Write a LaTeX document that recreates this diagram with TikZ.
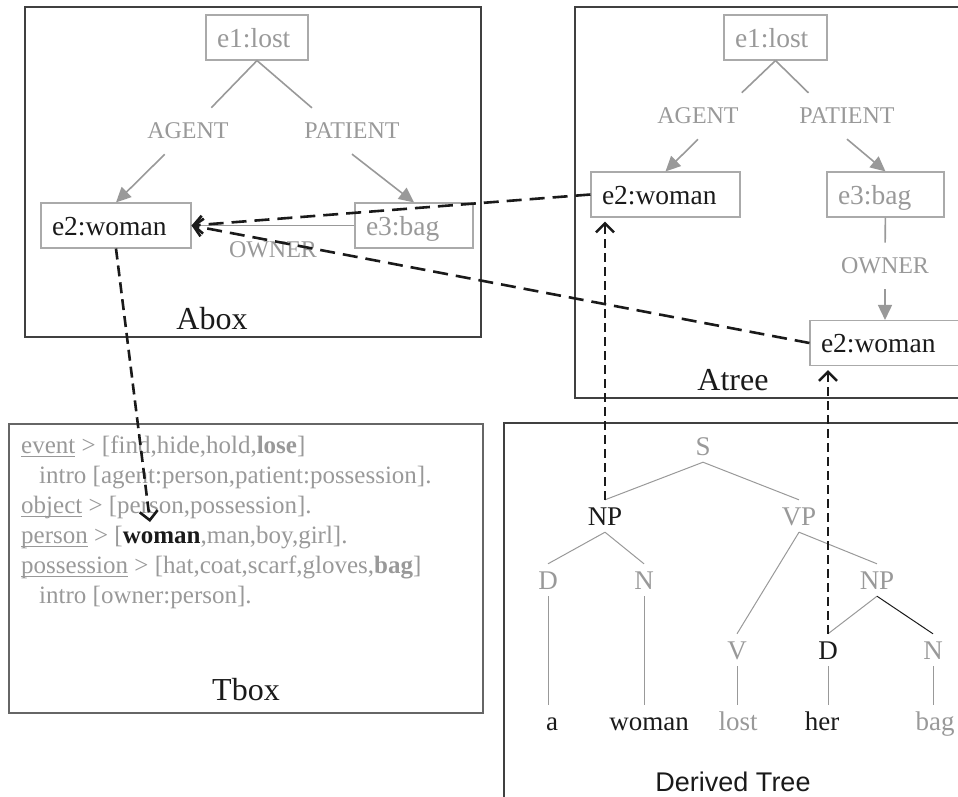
\documentclass[tikz,border=0pt]{standalone}
\usepackage{fontspec}
\setmainfont{Liberation Serif}
\setsansfont{Liberation Sans}
\usepackage{xcolor}
\usetikzlibrary{arrows.meta,calc}
\definecolor{relgray}{HTML}{999999}
\definecolor{boxgray}{HTML}{AAAAAA}
\definecolor{framegray}{HTML}{404040}
\definecolor{inkblack}{HTML}{1A1A1A}
\newcommand{\tbul}[1]{\setbox0=\hbox{#1}\rlap{\rule[-4pt]{\wd0}{1pt}}\box0\relax}

\begin{document}
\begin{tikzpicture}[x=1pt, y=-1pt,
    panel/.style={draw=framegray, line width=1.4pt},
    ent/.style={draw=boxgray, line width=1.1pt, minimum height=45pt, text height=19pt, text depth=0pt, inner xsep=11pt, align=left, font=\fontsize{27.5}{33}\selectfont},
    rel/.style={text=relgray, inner sep=15pt, font=\fontsize{24}{29}\selectfont},
    boxtitle/.style={text=inkblack, font=\fontsize{32}{38}\selectfont},
    relline/.style={draw=relgray, line width=1.6pt},
    relarrow/.style={relline, -{Triangle[length=15pt,width=14pt]}},
    link/.style={draw=inkblack, line width=2.6pt, dash pattern=on 15pt off 8pt, -{Straight Barb[length=9pt,width=18pt]}},
    vlink/.style={link, dash pattern=on 9pt off 5pt, shorten >=4pt},
    cat/.style={text=relgray, font=\fontsize{27}{32}\selectfont, text height=18pt, text depth=0pt, inner sep=7pt},
    branch/.style={draw=relgray, line width=1pt},
    tbrow/.style={anchor=base west, inner sep=0pt, text=relgray, font=\fontsize{25}{30}\selectfont}]
    \useasboundingbox (0,0) rectangle (958,796);
    \clip (0,0) rectangle (958,796);

    % Abox
    \draw[panel] (25,7) rectangle (481,337);
    \node[ent, text width=80pt, text=relgray] (abevt) at (257,37.5) {e1:lost};
    \node[rel] (abagent) at (188,131) {AGENT};
    \node[rel] (abpatient) at (352,131) {PATIENT};
    \node[ent, text width=128pt, text=inkblack] (abwoman) at (116,225.5) {e2:woman};
    \node[ent, text width=96pt, text=relgray] (abbag) at (414,225.5) {e3:bag};
    \node[boxtitle] (abtitle) at (212,319) {Abox};
    \draw[relline] (abevt.south) -- (abagent.45);
    \draw[relline] (abevt.south) -- (abpatient.150);
    \draw[relarrow] (abagent.225) -- (abwoman.north);
    \draw[relarrow] (abpatient.south) -- (abbag.north);
    \draw[relline] (abbag) -- node[rel, below] {OWNER} (abwoman);

    % Atree
    \draw[panel] (575,7) rectangle (990,398);
    \node[ent, text width=81pt, text=relgray] (atevt) at (775.5,37.5) {e1:lost};
    \node[rel] (atagent) at (698,116) {AGENT};
    \node[rel] (atpatient) at (847,116) {PATIENT};
    \node[ent, text width=127pt, text=inkblack] (atwoman) at (665.5,194.5) {e2:woman};
    \node[ent, text width=95pt, text=relgray] (atbag) at (885.5,194.5) {e3:bag};
    \node[rel] (atowner) at (885,266) {OWNER};
    \node[ent, text width=128pt, text=inkblack] (atposs) at (885,343) {e2:woman};
    \node[boxtitle] (attitle) at (733,380) {Atree};
    \draw[relline] (atevt.south) -- (atagent.28);
    \draw[relline] (atevt.south) -- (atpatient.149);
    \draw[relarrow] (atagent.south) -- (atwoman.north);
    \draw[relarrow] (atpatient.south) -- (atbag.north);
    \draw[relline] (atbag) -- (atowner);
    \draw[relarrow] (atowner) -- (atposs);

    % Tbox
    \draw[panel, draw=framegray!80] (9,424) rectangle (483,713);
    \node[tbrow] (tb1) at (21,453) {\tbul{event} > [find,hide,hold,\textbf{lose}]};
    \node[tbrow] (tb2) at (39,483) {intro [agent:person,patient:possession].};
    \node[tbrow] (tb3) at (21,513) {\tbul{object} > [person,possession].};
    \node[tbrow] (tb4) at (21,543) {\tbul{person} > [{\color{inkblack}\textbf{woman}},man,boy,girl].};
    \node[tbrow] (tb5) at (21,573) {\tbul{possession} > [hat,coat,scarf,gloves,\textbf{bag}]};
    \node[tbrow] (tb6) at (39,603) {intro [owner:person].};
    \coordinate (tbwoman) at (150,522);
    \node[boxtitle] (tbtitle) at (246,690) {Tbox};

    % Derived tree
    \draw[panel] (504,423) rectangle (990,830);
    \node[cat] (dts) at (703,446) {S};
    \node[cat, text=inkblack] (dtnp) at (605,516) {NP};
    \node[cat] (dtvp) at (799,516) {VP};
    \node[cat] (dtd) at (548,580) {D};
    \node[cat] (dtn) at (644,580) {N};
    \node[cat] (dtobj) at (877,580) {NP};
    \node[cat] (dtv) at (737,650) {V};
    \node[cat, text=inkblack] (dtdet) at (828,650) {D};
    \node[cat] (dtnoun) at (933,650) {N};
    \node[cat, text=inkblack] (wa) at (552,721) {a};
    \node[cat, text=inkblack] (wwoman) at (649,721) {woman};
    \node[cat] (wlost) at (738,721) {lost};
    \node[cat, text=inkblack] (wher) at (822,721) {her};
    \node[cat] (wbag) at (935,721) {bag};
    \node[boxtitle, inner sep=1pt, font=\sffamily\fontsize{27}{32}\selectfont] (dttitle) at (733,782) {Derived Tree};
    \draw[branch] (dts.south) -- (dtnp.north);
    \draw[branch] (dts.south) -- (dtvp.north);
    \draw[branch] (dtnp.south) -- (dtd.north);
    \draw[branch] (dtnp.south) -- (dtn.north);
    \draw[branch] (dtvp.south) -- (dtv.north);
    \draw[branch] (dtvp.south) -- (dtobj.north);
    \draw[branch] (dtobj.south) -- (dtdet.north);
    \draw[branch, draw=inkblack] (dtobj.south) -- (dtnoun.north);
    \foreach \p/\w in {dtd/wa, dtn/wwoman, dtv/wlost, dtdet/wher, dtnoun/wbag}
        \draw[branch] (\p.south) -- (\p.south |- \w.north);

    % links
    \draw[link] (atwoman.west) -- (abwoman.east);
    \draw[link] (atposs.west) -- (abwoman.east);
    \draw[link, dash pattern=on 11pt off 6pt] (abwoman.south) -- (tbwoman);
    \draw[vlink] (dtnp.north) -- (dtnp.north |- atwoman.south);
    \draw[vlink] (dtdet.north) -- (dtdet.north |- atposs.south);
\end{tikzpicture}
\end{document}
